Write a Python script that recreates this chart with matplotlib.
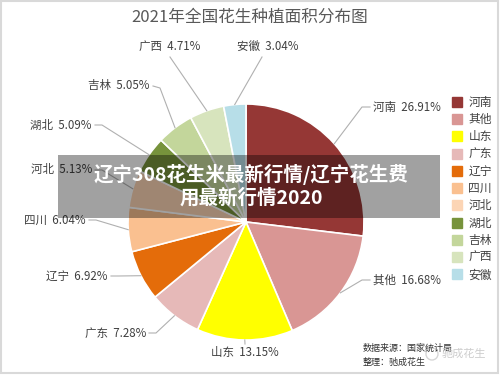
import numpy as np
import matplotlib.pyplot as plt
from matplotlib.lines import Line2D
from matplotlib.patches import Rectangle, Circle

plt.rcParams["font.family"] = ["Noto Sans CJK SC", "DejaVu Sans"]

provinces = ["河南", "其他", "山东", "广东", "辽宁", "四川", "河北", "湖北", "吉林", "广西", "安徽"]
shares = [26.91, 16.68, 13.15, 7.28, 6.92, 6.04, 5.13, 5.09, 5.05, 4.71, 3.04]
colors = ["#953735", "#D99694", "#FFFF00", "#E6B9B8", "#E46C0A", "#FAC090",
          "#FCD5B5", "#77933C", "#C3D69B", "#D7E4BD", "#B7DEE8"]

title = "2021年全国花生种植面积分布图"
overlay = "辽宁308花生米最新行情/辽宁花生费\n用最新行情2020"

W, H = 500, 376
fig = plt.figure(figsize=(W / 100, H / 100), dpi=100)
ax = fig.add_axes([0, 0, 1, 1])


def py(y):
    # pixel row (from top) -> data y
    return H - y


cx, cy, R = 246, py(222), 118
wedges, _ = ax.pie(shares, colors=colors, startangle=90, counterclock=False,
                   radius=R, center=(cx, cy),
                   wedgeprops=dict(edgecolor="white", linewidth=1.2))

# label layout: text x, text y, alignment, elbow x, elbow y (pixels)
label_pos = [
    (373, 107, "left", 362, 107),
    (373, 280, "left", 362, 280),
    (245, 352, "center", 245, 344),
    (146, 333, "right", 156, 333),
    (108, 276, "right", 118, 276),
    (86, 220, "right", 96, 220),
    (92, 170, "right", 102, 170),
    (92, 125, "right", 102, 125),
    (150, 86, "right", 160, 88),
    (200, 46, "right", 170, 57),
    (237, 46, "left", 262, 57),
]

for w, name, v, (tx, ty, ha, ex, ey) in zip(wedges, provinces, shares, label_pos):
    mid = np.deg2rad((w.theta1 + w.theta2) / 2)
    x0 = cx + R * np.cos(mid)
    y0 = cy + R * np.sin(mid)
    xs = [x0, ex]
    ys = [y0, py(ey)]
    if ha == "left" and ex < tx:
        xs.append(tx - 3); ys.append(py(ty))
    elif ha == "right" and ex > tx:
        xs.append(tx + 3); ys.append(py(ty))
    ax.plot(xs, ys, color="#b0b0b0", lw=0.8, zorder=1)
    ax.text(tx, py(ty), f"{name}  {v:.2f}%", ha=ha, va="center",
            fontsize=8.3, color="#404040")

ax.text(250, py(17), title, ha="center", va="center", fontsize=12, color="#595959")

# legend
handles = [Line2D([], [], ls="", marker="s", markersize=7, color=c) for c in colors]
ax.legend(handles, provinces, loc="upper left", bbox_to_anchor=(446 / W, 1 - 90 / H),
          frameon=False, fontsize=8.5, handlelength=0.8, handletextpad=0.6,
          labelspacing=0.36, borderpad=0, labelcolor="#404040")

# source note and watermark
ax.text(363, py(348), "数据来源：国家统计局", fontsize=6.5, color="#333333", va="center")
ax.text(363, py(362), "整理：驰成花生", fontsize=6.5, color="#333333", va="center")
ax.add_patch(Circle((432, py(354)), 6, fill=False, ec="#cccccc", lw=1, alpha=0.8))
ax.text(442, py(354), "驰成花生", fontsize=8, color="#c8c8c8", va="center", alpha=0.9)

# overlay band
ax.add_patch(Rectangle((58, py(218)), 382, 63, color="black", alpha=0.37, lw=0, zorder=5))
ax.text(251, py(186), overlay, ha="center", va="center", fontsize=14,
        fontweight="bold", color="white", linespacing=1.2, zorder=6)

# frame
ax.add_patch(Rectangle((1, py(373)), 497, 372, fill=False, ec="#d9d9d9", lw=1.5, zorder=7))

ax.set_xlim(0, W)
ax.set_ylim(0, H)
ax.set_aspect("auto")
ax.axis("off")

fig.savefig("out.png", dpi=100)
